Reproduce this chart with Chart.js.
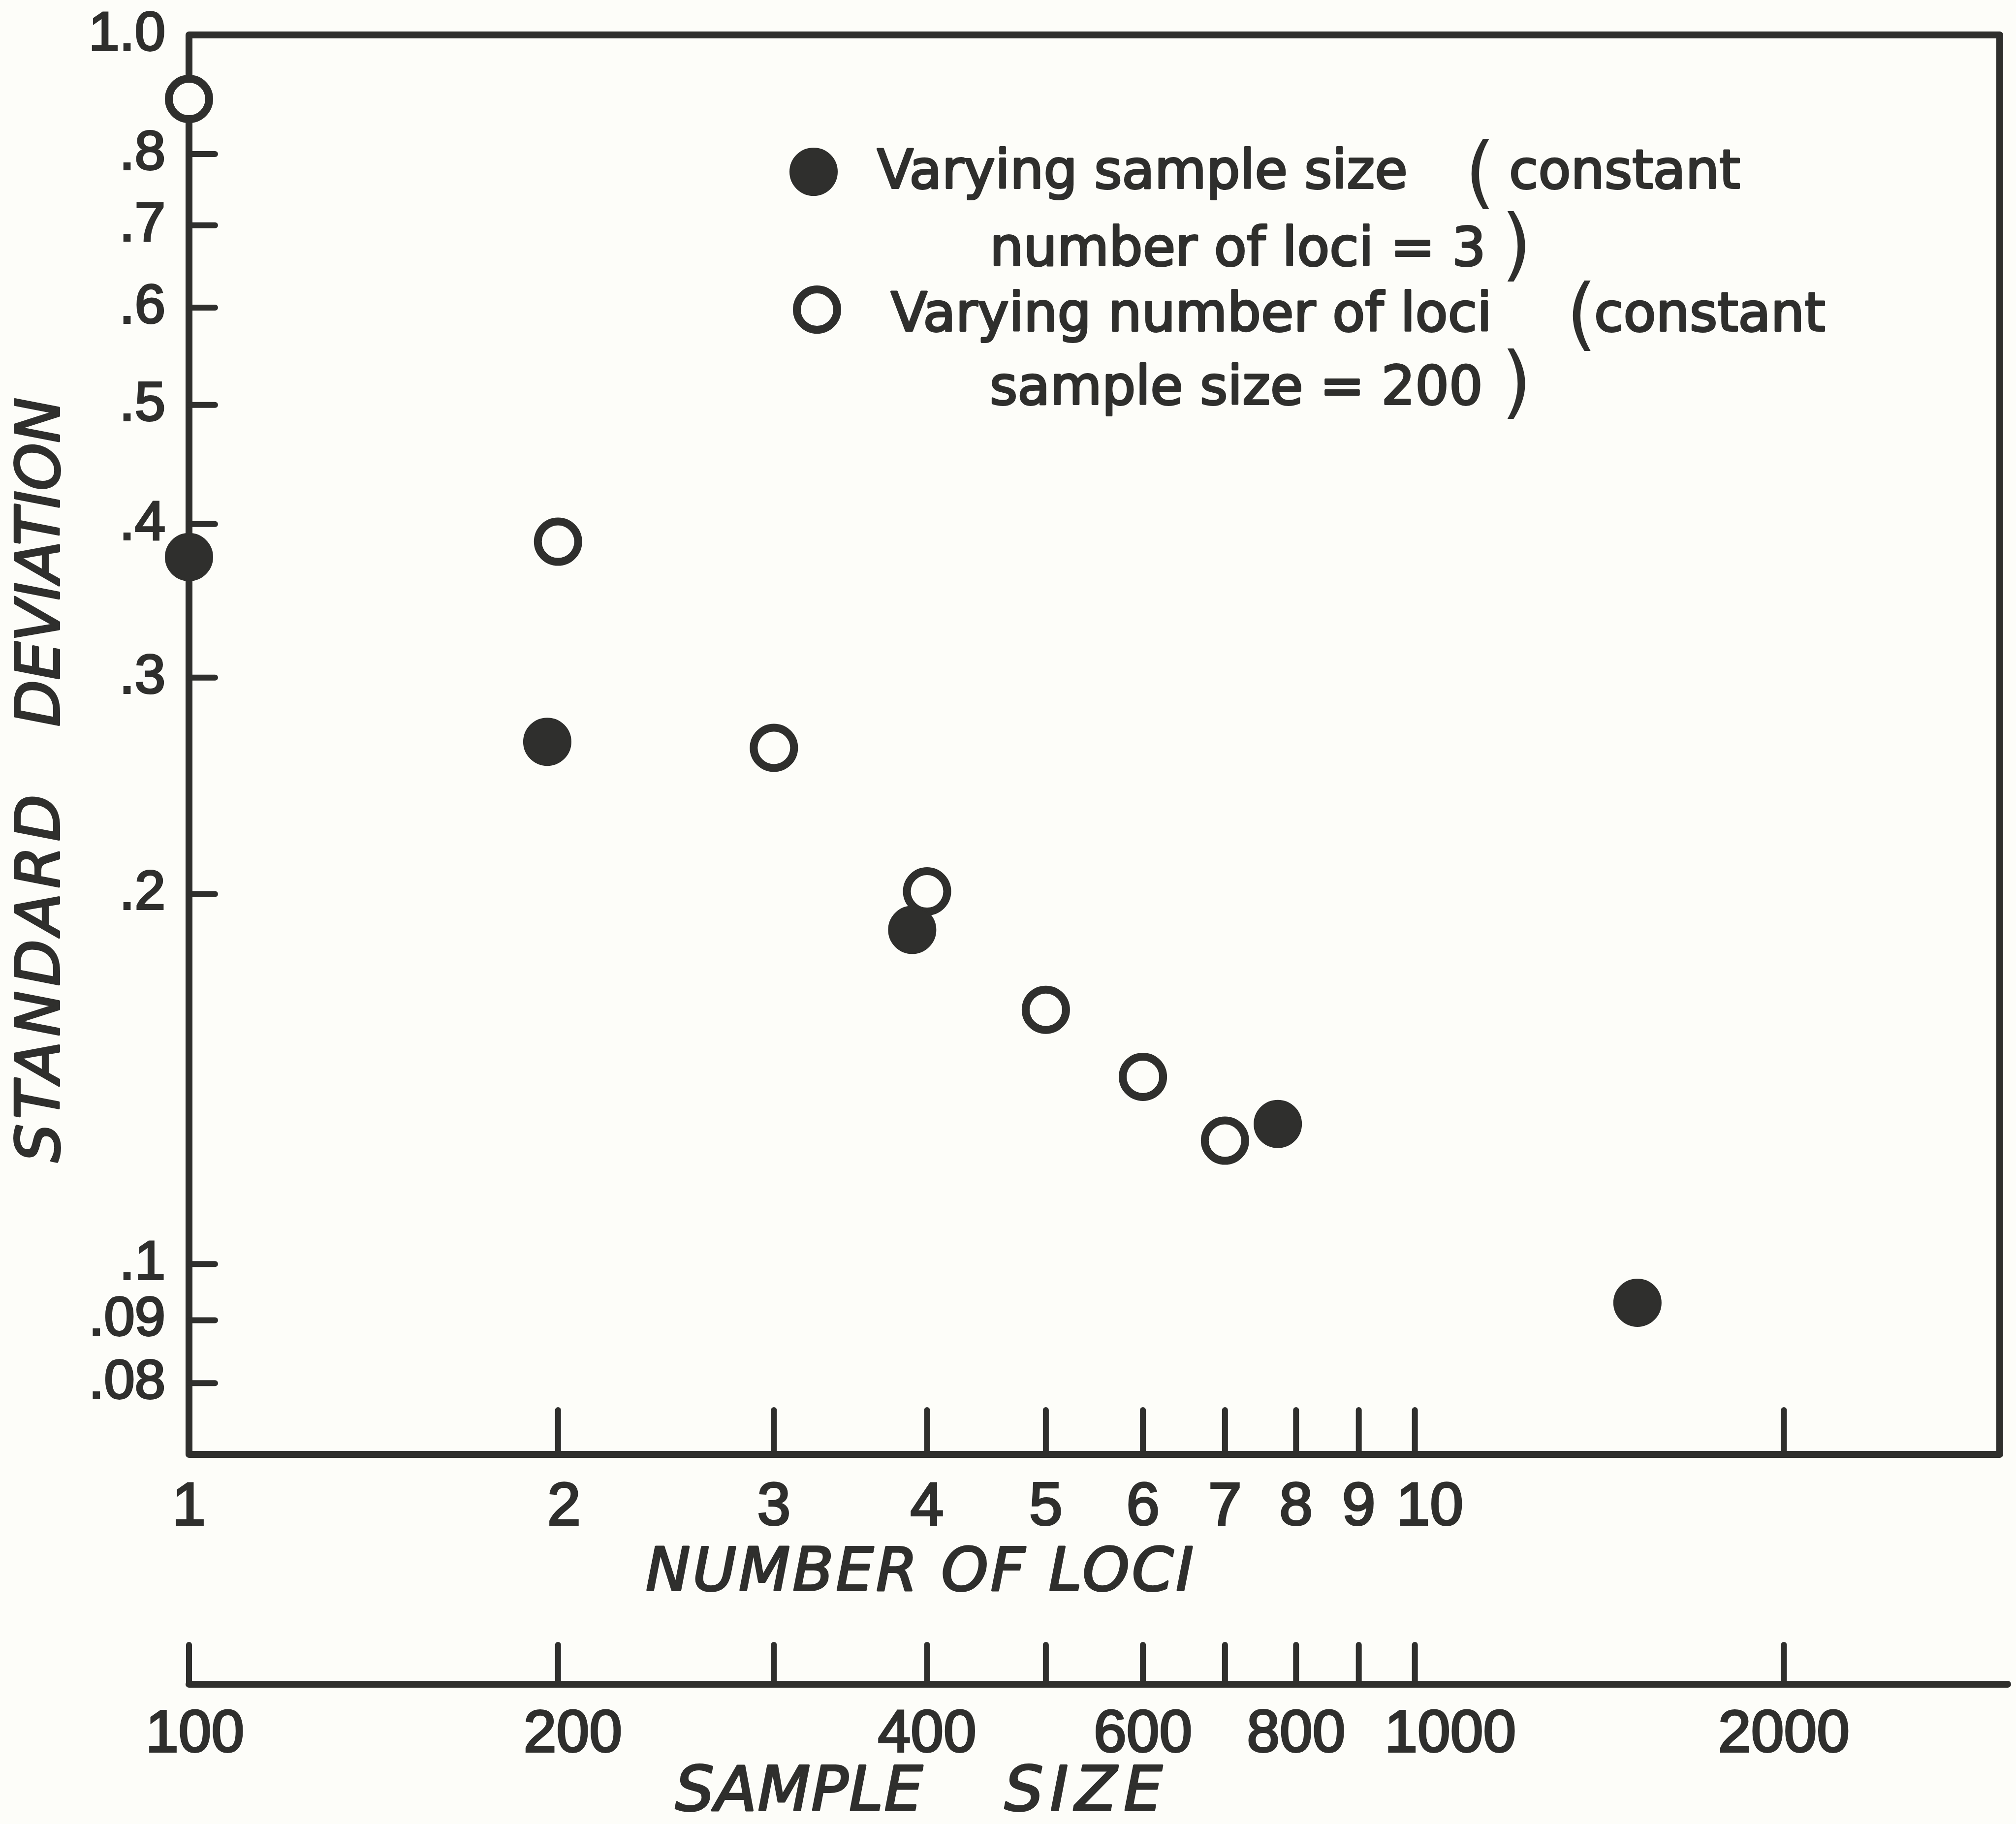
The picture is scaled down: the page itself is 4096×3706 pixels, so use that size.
<!DOCTYPE html>
<html>
<head>
<meta charset="utf-8">
<title>Standard deviation vs number of loci and sample size</title>
<script src="https://cdn.jsdelivr.net/npm/chart.js@4.4.1/dist/chart.umd.min.js"></script>
<style>
  html, body { margin: 0; padding: 0; background: #fdfdf9; overflow: hidden; }
  #chart { display: block; }
</style>
</head>
<body>
<canvas id="chart" width="4096" height="3706"></canvas>
<script>
// tick positions and labels (the lettered labels sit a little right of some ticks)
const lociTicks = [1, 2, 3, 4, 5, 6, 7, 8, 9, 10, 20];
const lociLabels = ['1', '\u20092', '3', '4', '5', '6', '7', '8', '9', '\u200210', ''];
const sampleTicks = [100, 200, 300, 400, 500, 600, 700, 800, 900, 1000, 2000];
const sampleLabels = ['\u2009100', '\u2002200', '', '400', '', '600', '', '800', '', '\u2003\u20091000', '2000'];
const sdTicks = [0.08, 0.09, 0.1, 0.2, 0.3, 0.4, 0.5, 0.6, 0.7, 0.8, 1.0];
const sdLabels = ['.08', '.09', '.1', '.2', '.3', '.4', '.5', '.6', '.7', '.8', '1.0'];

// filled circles: varying sample size (3 loci)
const sampleSizes = [100, 196, 389, 773, 1519];
const sdBySample = [0.376, 0.266, 0.187, 0.130, 0.093];

// open circles: varying number of loci (sample size 200)
const lociCounts = [1, 2, 3, 4, 5, 6, 7];
const sdByLoci = [0.887, 0.387, 0.263, 0.201, 0.161, 0.142, 0.126];

const INK = '#2f2f2d';
const PAPER = '#fdfdf9';
const FONT = '"DejaVu Sans", sans-serif';
const NUM_FONT = '"Liberation Sans", Arial, sans-serif';
const TEXT_STROKE = 4;

// layout (canvas px)
const PLOT_TOP = 71;
const PLOT_RIGHT_PAD = 33;
const Y_AXIS_W = 384;
const LOCI_AXIS_H = 467;
const SAMPLE_AXIS_H = 284;

function strokeLine(ctx, x1, y1, x2, y2) {
    ctx.beginPath();
    ctx.moveTo(x1, y1);
    ctx.lineTo(x2, y2);
    ctx.stroke();
}

// frame, inward tick marks and the separate sample size axis line
const framePlugin = {
    id: 'frame',
    beforeDatasetsDraw(chart) {
        const { ctx, chartArea: a, scales } = chart;
        ctx.save();
        ctx.strokeStyle = INK;
        ctx.lineCap = 'round';
        ctx.lineJoin = 'round';
        ctx.lineWidth = 14;
        ctx.strokeRect(a.left, a.top, a.right - a.left, a.bottom - a.top);

        const sTop = scales.xs.top;
        strokeLine(ctx, a.left, sTop, a.right + 16, sTop);

        ctx.lineWidth = 12;
        sdTicks.forEach(v => {
            if (v === 1) return;
            const y = scales.y.getPixelForValue(v);
            strokeLine(ctx, a.left, y, a.left + 53, y);
        });
        lociTicks.forEach(v => {
            if (v === 1) return;
            const x = scales.x.getPixelForValue(v);
            strokeLine(ctx, x, a.bottom, x, a.bottom - 90);
        });
        sampleTicks.forEach(v => {
            const x = scales.xs.getPixelForValue(v);
            strokeLine(ctx, x, sTop, x, sTop - 80);
        });
        ctx.restore();
    }
};

function drawMarker(ctx, ds, x, y) {
    ctx.beginPath();
    ctx.arc(x, y, ds.pointRadius, 0, Math.PI * 2);
    ctx.fillStyle = ds.pointBackgroundColor;
    ctx.fill();
    ctx.lineWidth = ds.pointBorderWidth;
    ctx.strokeStyle = ds.pointBorderColor;
    ctx.stroke();
}

// pen-lettered look: fill plus a thin stroke
function inkText(ctx, text, x, y, spacing) {
    ctx.letterSpacing = (spacing || 0) + 'px';
    ctx.fillText(text, x, y);
    ctx.strokeText(text, x, y);
    ctx.letterSpacing = '0px';
}

// axis titles and the legend block
const textPlugin = {
    id: 'texts',
    afterDraw(chart) {
        const { ctx } = chart;
        const ds = chart.data.datasets;
        ctx.save();
        ctx.fillStyle = INK;
        ctx.strokeStyle = INK;
        ctx.lineWidth = TEXT_STROKE;
        ctx.lineJoin = 'round';

        // axis titles
        ctx.font = `italic 121px ${FONT}`;
        ctx.textBaseline = 'middle';
        ctx.textAlign = 'left';
        inkText(ctx, 'NUMBER OF LOCI', 1312, 3200, 5);
        ctx.font = `italic 124px ${FONT}`;
        inkText(ctx, 'SAMPLE', 1372, 3646, 2);
        inkText(ctx, 'SIZE', 2041, 3646, 14);

        ctx.save();
        ctx.translate(88, 0);
        ctx.rotate(-Math.PI / 2);
        ctx.textAlign = 'center';
        ctx.font = `italic 123px ${FONT}`;
        inkText(ctx, 'STANDARD', -1983, 0, 10);
        inkText(ctx, 'DEVIATION', -1142, 0, 0);
        ctx.restore();

        // legend
        ctx.save();
        drawMarker(ctx, ds[0], 1653, 349);
        drawMarker(ctx, ds[1], 1660, 629);
        ctx.restore();

        ctx.textAlign = 'left';
        ctx.textBaseline = 'alphabetic';
        ctx.font = `108px ${FONT}`;
        inkText(ctx, 'Varying sample size', 1782, 382);
        inkText(ctx, 'constant', 3066, 382);
        inkText(ctx, 'number of loci = 3', 2011, 539);
        inkText(ctx, 'Varying number of loci', 1810, 672);
        inkText(ctx, 'constant', 3239, 672);
        inkText(ctx, 'sample size = 200', 2011, 821);

        ctx.font = `160px ${FONT}`;
        ctx.fillText('(', 2976, 404);
        ctx.fillText(')', 3050, 551);
        ctx.fillText('(', 3182, 692);
        ctx.fillText(')', 3050, 830);
        ctx.restore();
    }
};

const tickFont = (family, size) => ({ family: family, size: size });

new Chart(document.getElementById('chart'), {
    type: 'scatter',
    data: {
        datasets: [
            {
                label: 'Varying sample size (constant number of loci = 3)',
                xAxisID: 'xs',
                yAxisID: 'y',
                data: sampleSizes.map((s, i) => ({ x: s, y: sdBySample[i] })),
                pointRadius: 47,
                pointBorderWidth: 4,
                pointBackgroundColor: INK,
                pointBorderColor: INK,
                clip: false
            },
            {
                label: 'Varying number of loci (constant sample size = 200)',
                xAxisID: 'x',
                yAxisID: 'y',
                data: lociCounts.map((n, i) => ({ x: n, y: sdByLoci[i] })),
                pointRadius: 41,
                pointBorderWidth: 16,
                pointBackgroundColor: PAPER,
                pointBorderColor: INK,
                clip: false
            }
        ]
    },
    options: {
        responsive: false,
        animation: false,
        devicePixelRatio: 1,
        events: [],
        layout: {
            autoPadding: false,
            padding: { top: PLOT_TOP, right: PLOT_RIGHT_PAD, bottom: 0, left: 0 }
        },
        plugins: {
            legend: { display: false },
            tooltip: { enabled: false }
        },
        scales: {
            x: {
                type: 'logarithmic',
                position: 'bottom',
                weight: 0,
                min: 1,
                max: 30,
                grid: { display: false },
                border: { display: false },
                afterBuildTicks: s => { s.ticks = lociTicks.map(v => ({ value: v })); },
                afterFit: s => { s.height = LOCI_AXIS_H; s.paddingLeft = 0; s.paddingRight = 0; },
                ticks: {
                    autoSkip: false,
                    maxRotation: 0,
                    minRotation: 0,
                    padding: 28,
                    color: INK,
                    textStrokeColor: INK,
                    textStrokeWidth: TEXT_STROKE,
                    font: tickFont(NUM_FONT, 122),
                    callback: (v, i) => lociLabels[i]
                }
            },
            xs: {
                type: 'logarithmic',
                position: 'bottom',
                weight: 1,
                min: 100,
                max: 3000,
                grid: { display: false },
                border: { display: false },
                afterBuildTicks: s => { s.ticks = sampleTicks.map(v => ({ value: v })); },
                afterFit: s => { s.height = SAMPLE_AXIS_H; s.paddingLeft = 0; s.paddingRight = 0; },
                ticks: {
                    autoSkip: false,
                    maxRotation: 0,
                    minRotation: 0,
                    padding: 24,
                    color: INK,
                    textStrokeColor: INK,
                    textStrokeWidth: TEXT_STROKE,
                    font: tickFont(NUM_FONT, 120),
                    callback: (v, i) => sampleLabels[i]
                }
            },
            y: {
                type: 'logarithmic',
                position: 'left',
                min: 0.07,
                max: 1.0,
                grid: { display: false },
                border: { display: false },
                afterBuildTicks: s => { s.ticks = sdTicks.map(v => ({ value: v })); },
                afterFit: s => { s.width = Y_AXIS_W; s.paddingTop = 0; s.paddingBottom = 0; },
                ticks: {
                    autoSkip: false,
                    padding: 40,
                    color: INK,
                    textStrokeColor: INK,
                    textStrokeWidth: TEXT_STROKE,
                    font: tickFont(NUM_FONT, 112),
                    callback: (v, i) => sdLabels[i]
                }
            }
        }
    },
    plugins: [framePlugin, textPlugin]
});
</script>
</body>
</html>
